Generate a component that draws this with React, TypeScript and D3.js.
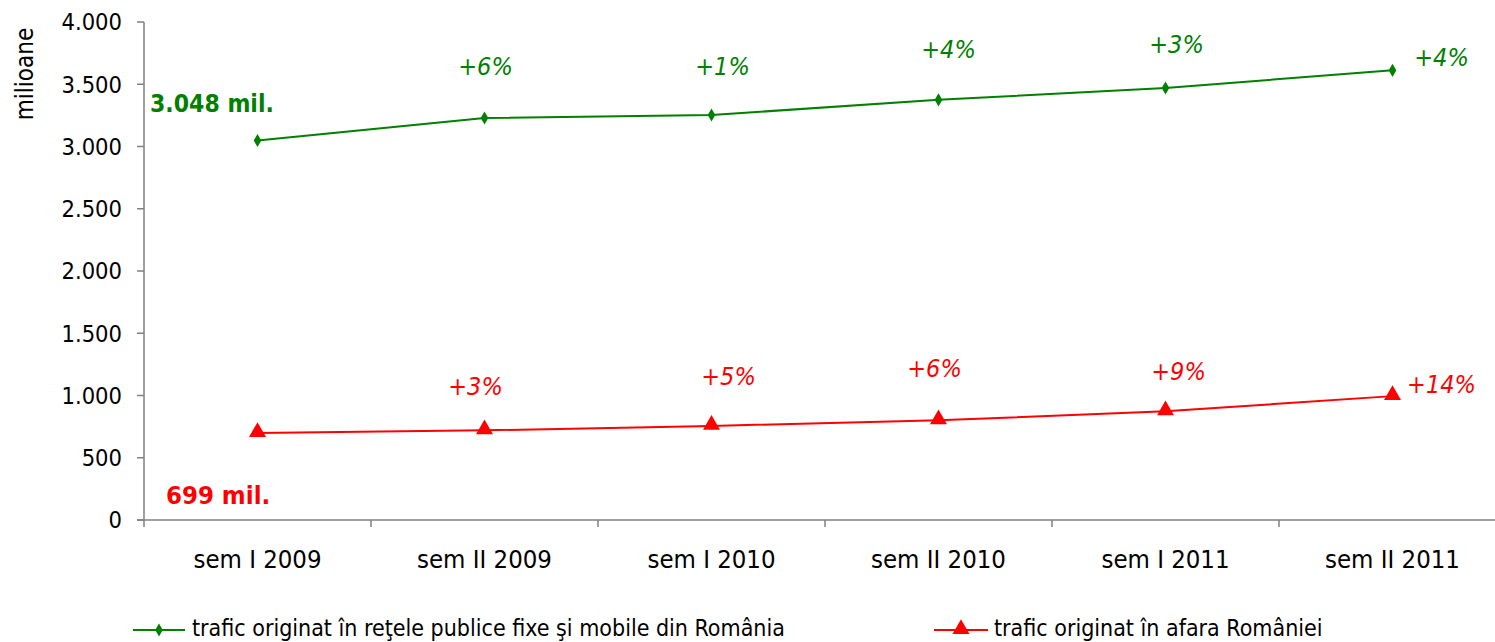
import React from "react";
import * as d3 from "d3";

const categories = ["sem I 2009", "sem II 2009", "sem I 2010", "sem II 2010", "sem I 2011", "sem II 2011"];
const domesticValues = [3048, 3229, 3253, 3375, 3470, 3612];
const foreignValues = [699, 720, 756, 801, 873, 995];
const domesticGrowth = ["", "+6%", "+1%", "+4%", "+3%", "+4%"];
const foreignGrowth = ["", "+3%", "+5%", "+6%", "+9%", "+14%"];
const yTicks = [0, 500, 1000, 1500, 2000, 2500, 3000, 3500, 4000];
const seriesNames = [
  "trafic originat în reţele publice fixe şi mobile din România",
  "trafic originat în afara României",
];

const W = 1495;
const H = 642;
const FONT = "Tahoma, 'DejaVu Sans Condensed', 'DejaVu Sans', sans-serif";
const GREEN = "#008000";
const RED = "#ff0000";

// label offsets (dx, dy) from data points
const domesticLabelOff: [number, number][] = [[0, 0], [1, -43], [11, -40], [10, -42], [11, -35], [49, -4]];
const foreignLabelOff: [number, number][] = [[0, 0], [-9, -35], [17, -41], [-4, -43], [13, -31], [49, -3]];

export default function App() {
  const left = 144;
  const bandW = 227;
  const x = d3
    .scaleBand<string>()
    .domain(categories)
    .range([left, left + bandW * categories.length]);
  const y = d3.scaleLinear().domain([0, 4000]).range([520, 22]);
  const cx = (c: string) => (x(c) as number) + x.bandwidth() / 2;

  const line = d3
    .line<number>()
    .x((_, i) => cx(categories[i]))
    .y((d) => y(d));

  const tri = d3.symbol().type(d3.symbolTriangle).size(125)();
  const dia = d3.symbol().type(d3.symbolDiamond).size(50)();
  const fmt = (v: number) => d3.format(",")(v).replace(/,/g, ".");

  return (
    <svg width={W} height={H} style={{ position: "absolute", left: 0, top: 0, background: "#fff" }}>
      <rect width={W} height={H} fill="#fff" />
      {/* Y axis */}
      <line x1={left} x2={left} y1={y(4000)} y2={y(0)} stroke="#808080" strokeWidth={1.5} />
      {yTicks.map((t) => (
        <g key={t}>
          <line x1={left - 7} x2={left} y1={y(t)} y2={y(t)} stroke="#808080" strokeWidth={1.5} />
          <text x={122} y={y(t)} dy="0.36em" textAnchor="end" fontFamily={FONT} fontSize={23.5} fill="#000">
            {fmt(t)}
          </text>
        </g>
      ))}
      <text
        transform={`translate(33,74) rotate(-90)`}
        textAnchor="middle"
        fontFamily={FONT}
        fontSize={24}
        fill="#000"
      >
        milioane
      </text>
      {/* X axis */}
      <line x1={left - 7} x2={left + bandW * categories.length} y1={y(0)} y2={y(0)} stroke="#808080" strokeWidth={1.5} />
      {categories.map((c) => (
        <line key={"t" + c} x1={x(c) as number} x2={x(c) as number} y1={y(0)} y2={y(0) + 7} stroke="#808080" strokeWidth={1.5} />
      ))}
      {categories.map((c) => (
        <text key={c} x={cx(c)} y={568} textAnchor="middle" fontFamily={FONT} fontSize={25.5} fill="#000">
          {c}
        </text>
      ))}
      {/* Lines */}
      <path d={line(domesticValues) || ""} fill="none" stroke={GREEN} strokeWidth={2} />
      <path d={line(foreignValues) || ""} fill="none" stroke={RED} strokeWidth={2} />
      {domesticValues.map((v, i) => (
        <path key={"d" + i} d={dia || ""} transform={`translate(${cx(categories[i])},${y(v)})`} fill={GREEN} />
      ))}
      {foreignValues.map((v, i) => (
        <path key={"f" + i} d={tri || ""} transform={`translate(${cx(categories[i])},${y(v) - 1})`} fill={RED} />
      ))}
      {/* Growth labels */}
      {domesticGrowth.map((g, i) =>
        g ? (
          <text
            key={"dg" + i}
            x={cx(categories[i]) + domesticLabelOff[i][0]}
            y={y(domesticValues[i]) + domesticLabelOff[i][1]}
            textAnchor="middle"
            fontFamily={FONT}
            fontStyle="italic"
            fontSize={25}
            fill={GREEN}
          >
            {g}
          </text>
        ) : null
      )}
      {foreignGrowth.map((g, i) =>
        g ? (
          <text
            key={"fg" + i}
            x={cx(categories[i]) + foreignLabelOff[i][0]}
            y={y(foreignValues[i]) + foreignLabelOff[i][1]}
            textAnchor="middle"
            fontFamily={FONT}
            fontStyle="italic"
            fontSize={25}
            fill={RED}
          >
            {g}
          </text>
        ) : null
      )}
      {/* Start value labels */}
      <text x={150} y={112} fontFamily={FONT} fontWeight="bold" fontSize={24.5} fill={GREEN}>
        {fmt(domesticValues[0])} mil.
      </text>
      <text x={166} y={504} fontFamily={FONT} fontWeight="bold" fontSize={25.5} fill={RED}>
        {foreignValues[0]} mil.
      </text>
      {/* Legend */}
      <g>
        <line x1={133} x2={185} y1={630} y2={630} stroke={GREEN} strokeWidth={2} />
        <path d={dia || ""} transform="translate(159,630)" fill={GREEN} />
        <text x={192} y={635.5} fontFamily={FONT} fontSize={23} fill="#000">
          {seriesNames[0]}
        </text>
        <line x1={934} x2={988} y1={630} y2={630} stroke={RED} strokeWidth={2} />
        <path d={tri || ""} transform="translate(961,629)" fill={RED} />
        <text x={994} y={635.5} fontFamily={FONT} fontSize={23} fill="#000">
          {seriesNames[1]}
        </text>
      </g>
    </svg>
  );
}
